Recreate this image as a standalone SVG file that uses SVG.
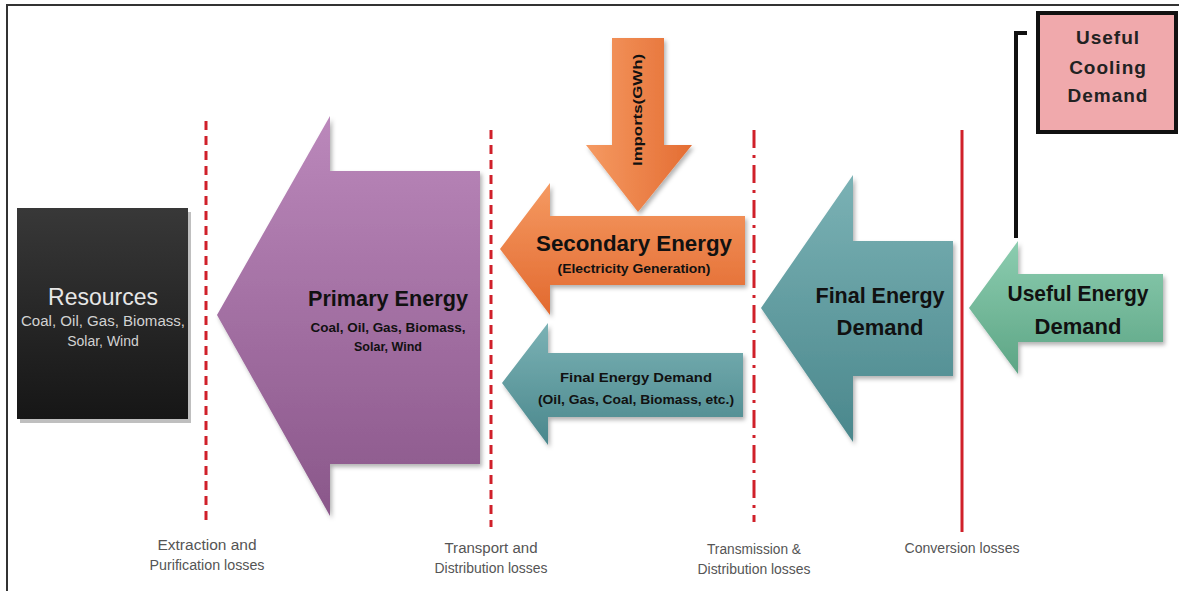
<svg xmlns="http://www.w3.org/2000/svg" width="1179" height="591" viewBox="0 0 1179 591">
<defs>
<linearGradient id="gBlack" x1="0" y1="0" x2="0" y2="1"><stop offset="0" stop-color="#383838"/><stop offset="1" stop-color="#161616"/></linearGradient>
<linearGradient id="gPurple" x1="0" y1="0" x2="0" y2="1"><stop offset="0" stop-color="#bb88bb"/><stop offset="1" stop-color="#8a578a"/></linearGradient>
<linearGradient id="gOrange" x1="0" y1="0" x2="0" y2="1"><stop offset="0" stop-color="#f59a62"/><stop offset="1" stop-color="#e2692f"/></linearGradient>
<linearGradient id="gOrangeV" x1="0" y1="0" x2="1" y2="0"><stop offset="0" stop-color="#f59a62"/><stop offset="1" stop-color="#e46d33"/></linearGradient>
<linearGradient id="gTeal" x1="0" y1="0" x2="0" y2="1"><stop offset="0" stop-color="#7bb2b5"/><stop offset="1" stop-color="#4a878c"/></linearGradient>
<linearGradient id="gGreen" x1="0" y1="0" x2="0" y2="1"><stop offset="0" stop-color="#8ccdb0"/><stop offset="1" stop-color="#5da585"/></linearGradient>
<filter id="sh" x="-10%" y="-10%" width="130%" height="130%"><feDropShadow dx="2" dy="3" stdDeviation="2" flood-color="#000" flood-opacity="0.3"/></filter>
</defs>
<style>
.big{font-family:"Liberation Sans",Arial,sans-serif;font-weight:bold;font-size:22px;fill:#111;text-anchor:middle}
.sub{font-family:"Liberation Sans",Arial,sans-serif;font-weight:bold;font-size:12.5px;fill:#111;text-anchor:middle}
.loss{font-family:"Liberation Sans",Arial,sans-serif;font-size:14px;fill:#555;text-anchor:middle}
.dash{stroke:#d0202a;stroke-width:3;fill:none}
.cool{font-family:"Liberation Sans",Arial,sans-serif;font-weight:bold;font-size:19px;fill:#222;text-anchor:middle;letter-spacing:1px}
</style>
<rect x="0" y="0" width="1179" height="591" fill="#fff"/>
<rect x="7" y="5" width="1180" height="600" fill="none" stroke="#333" stroke-width="2"/>

<g id="loss-lines">
<line class="dash" x1="206" y1="121" x2="206" y2="525" stroke-dasharray="9,6"/>
<line class="dash" x1="491" y1="130" x2="491" y2="527" stroke-dasharray="9,6"/>
<line class="dash" x1="754" y1="130" x2="754" y2="522" stroke-dasharray="18,7,3,7"/>
<line class="dash" x1="962" y1="130" x2="962" y2="532"/>
<text class="loss" x="207" y="550" textLength="99" lengthAdjust="spacingAndGlyphs">Extraction and</text>
<text class="loss" x="207" y="570" textLength="115" lengthAdjust="spacingAndGlyphs">Purification losses</text>
<text class="loss" x="491" y="553" textLength="93" lengthAdjust="spacingAndGlyphs">Transport and</text>
<text class="loss" x="491" y="573" textLength="113" lengthAdjust="spacingAndGlyphs">Distribution losses</text>
<text class="loss" x="754" y="554" textLength="94" lengthAdjust="spacingAndGlyphs">Transmission &amp;</text>
<text class="loss" x="754" y="574" textLength="113" lengthAdjust="spacingAndGlyphs">Distribution losses</text>
<text class="loss" x="962" y="553" textLength="115" lengthAdjust="spacingAndGlyphs">Conversion losses</text>
</g>

<g id="resources">
<rect x="20" y="212" width="171" height="211" fill="#000" opacity="0.25"/>
<rect x="17" y="208" width="171" height="211" fill="url(#gBlack)"/>
<text x="103" y="305" font-family="Liberation Sans,Arial,sans-serif" font-size="23" fill="#e6e6e6" text-anchor="middle">Resources</text>
<text x="103" y="326" font-family="Liberation Sans,Arial,sans-serif" font-size="14" fill="#d2d2d2" text-anchor="middle" textLength="164" lengthAdjust="spacingAndGlyphs">Coal, Oil, Gas, Biomass,</text>
<text x="103" y="346" font-family="Liberation Sans,Arial,sans-serif" font-size="14" fill="#d2d2d2" text-anchor="middle">Solar, Wind</text>
</g>

<g id="primary-energy">
<path d="M217,315 L330,116 L330,171 L480,171 L480,464 L330,464 L330,516 Z" fill="url(#gPurple)" filter="url(#sh)"/>
<text class="big" x="388" y="306" textLength="160" lengthAdjust="spacingAndGlyphs">Primary Energy</text>
<text class="sub" x="388" y="332" textLength="155" lengthAdjust="spacingAndGlyphs">Coal, Oil, Gas, Biomass,</text>
<text class="sub" x="388" y="351">Solar, Wind</text>
</g>

<g id="imports">
<path d="M612,38 L664,38 L664,145 L692,145 L638,212 L586,145 L612,145 Z" fill="url(#gOrangeV)" filter="url(#sh)"/>
<text class="sub" transform="translate(638,110) rotate(-90)" y="4" x="0" textLength="112" lengthAdjust="spacingAndGlyphs">Imports(GWh)</text>
</g>

<g id="secondary-energy">
<path d="M500,249 L550,183 L550,216 L745,216 L745,285 L550,285 L550,315 Z" fill="url(#gOrange)" filter="url(#sh)"/>
<text class="big" x="634" y="251" textLength="196" lengthAdjust="spacingAndGlyphs">Secondary Energy</text>
<text class="sub" x="634" y="273" font-size="11.5" textLength="153" lengthAdjust="spacingAndGlyphs">(Electricity Generation)</text>
</g>

<g id="final-energy-demand-small">
<path d="M502,383 L548,323 L548,353 L743,353 L743,417 L548,417 L548,445 Z" fill="url(#gTeal)" filter="url(#sh)"/>
<text class="sub" x="636" y="382" textLength="152" lengthAdjust="spacingAndGlyphs">Final Energy Demand</text>
<text class="sub" x="636" y="404" textLength="196" lengthAdjust="spacingAndGlyphs">(Oil, Gas, Coal, Biomass, etc.)</text>
</g>

<g id="final-energy-demand">
<path d="M761,308 L853,175 L853,241 L953,241 L953,376 L853,376 L853,442 Z" fill="url(#gTeal)" filter="url(#sh)"/>
<text class="big" x="880" y="303" textLength="129" lengthAdjust="spacingAndGlyphs">Final Energy</text>
<text class="big" x="880" y="335">Demand</text>
</g>

<g id="useful-energy-demand">
<path d="M969,308 L1018,241 L1018,274 L1163,274 L1163,342 L1018,342 L1018,374 Z" fill="url(#gGreen)" filter="url(#sh)"/>
<text class="big" x="1078" y="301" textLength="141" lengthAdjust="spacingAndGlyphs">Useful Energy</text>
<text class="big" x="1078" y="334">Demand</text>
</g>

<g id="useful-cooling-demand">
<rect x="1038" y="13" width="138" height="119" fill="#f0a9ac" stroke="#111" stroke-width="4"/>
<text class="cool" x="1108" y="44">Useful</text>
<text class="cool" x="1108" y="74">Cooling</text>
<text class="cool" x="1108" y="102" letter-spacing="0">Demand</text>
</g>

<g id="connectors">
<path d="M1016,238 L1016,33 L1027,33" fill="none" stroke="#111" stroke-width="4"/>
</g>
</svg>
